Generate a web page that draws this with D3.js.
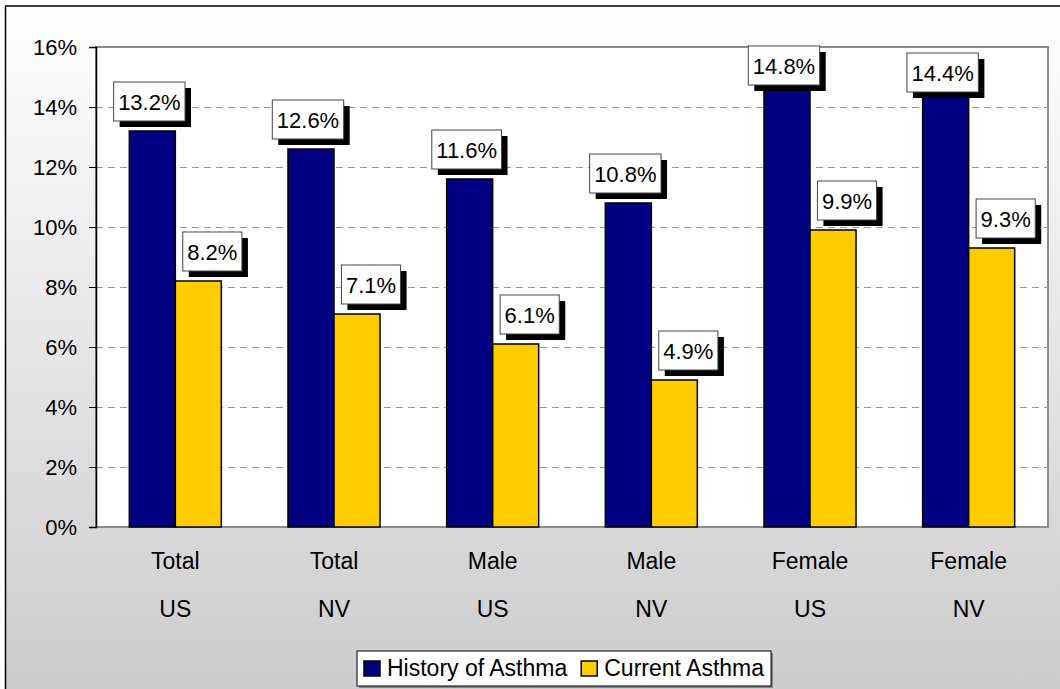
<!DOCTYPE html>
<html>
<head>
<meta charset="utf-8">
<script src="https://cdn.jsdelivr.net/npm/d3@7"></script>
<style>
  body { margin: 0; background: #fff; }
  svg text { font-family: "Liberation Sans", Arial, sans-serif; fill: #000; }
</style>
</head>
<body>
<div id="chart"></div>
<script>
// Asthma prevalence, US vs NV
const width = 1060;
const height = 689;
const plot = { left: 96, top: 47, right: 1048, bottom: 527 };

const groupLine1 = ['Total', 'Total', 'Male', 'Male', 'Female', 'Female'];
const groupLine2 = ['US', 'NV', 'US', 'NV', 'US', 'NV'];
const historyAsthma = [13.2, 12.6, 11.6, 10.8, 14.8, 14.4];
const currentAsthma = [8.2, 7.1, 6.1, 4.9, 9.9, 9.3];
const seriesNames = ['History of Asthma', 'Current Asthma'];
const seriesColors = ['#000080', '#ffcc00'];
const yTicks = [0, 2, 4, 6, 8, 10, 12, 14, 16];

const svg = d3.select('#chart')
    .append('svg')
    .attr('width', width)
    .attr('height', height);

// background gradient
const grad = svg.append('defs').append('linearGradient')
    .attr('id', 'bg').attr('x1', 0).attr('y1', 0).attr('x2', 0).attr('y2', 1);
grad.append('stop').attr('offset', '0%').attr('stop-color', '#ffffff');
grad.append('stop').attr('offset', '100%').attr('stop-color', '#cbcbcb');

svg.append('rect')
    .attr('x', 5.5).attr('y', 6)
    .attr('width', 1070).attr('height', 700)
    .attr('fill', 'url(#bg)')
    .attr('stroke', '#000').attr('stroke-width', 1.5);

svg.append('rect')
    .attr('x', plot.left).attr('y', plot.top)
    .attr('width', plot.right - plot.left).attr('height', plot.bottom - plot.top)
    .attr('fill', '#fff')
    .attr('stroke', '#8c8c8c').attr('stroke-width', 2);

const y = d3.scaleLinear().domain([0, 16]).range([plot.bottom, plot.top]);
const x0 = d3.scaleBand()
    .domain(d3.range(groupLine1.length))
    .range([plot.left, plot.right])
    .paddingInner(0.42)
    .paddingOuter(0.21);
const x1 = d3.scaleBand().domain([0, 1]).range([0, x0.bandwidth()]);

// gridlines
svg.append('g')
    .selectAll('line')
    .data(yTicks.filter(t => t > 0 && t < 16))
    .enter()
    .append('line')
    .attr('x1', plot.left).attr('x2', plot.right)
    .attr('y1', d => Math.round(y(d)) + 0.5).attr('y2', d => Math.round(y(d)) + 0.5)
    .attr('stroke', '#999')
    .attr('stroke-dasharray', '7,5');

// y axis
const yAxis = svg.append('g')
    .attr('transform', `translate(${plot.left},0)`)
    .call(d3.axisLeft(y).tickValues(yTicks).tickSize(7).tickPadding(12)
        .tickFormat(d => d + '%'));
yAxis.select('.domain').attr('stroke', '#000').attr('stroke-width', 1.5);
yAxis.selectAll('.tick line').attr('stroke', '#000');
yAxis.selectAll('.tick text')
    .style('font-size', '22px')
    .style('font-family', '"Liberation Sans", Arial, sans-serif');

// bars
const rows = historyAsthma.map((h, i) => ({ i, vals: [h, currentAsthma[i]] }));
const groups = svg.append('g')
    .selectAll('g')
    .data(rows)
    .enter()
    .append('g')
    .attr('transform', d => `translate(${x0(d.i)},0)`);

groups.selectAll('rect')
    .data(d => d.vals.map((v, s) => ({ v, s })))
    .enter()
    .append('rect')
    .attr('x', d => x1(d.s))
    .attr('y', d => y(d.v))
    .attr('width', x1.bandwidth())
    .attr('height', d => y(0) - y(d.v))
    .attr('fill', d => seriesColors[d.s])
    .attr('stroke', '#000')
    .attr('stroke-width', 1.5);

// data labels with shadow boxes
const labelOffset = [-3, 14];
const boxH = 39;
rows.forEach(r => {
    r.vals.forEach((v, s) => {
        const barTop = y(v);
        const cx = x0(r.i) + x1(s) + x1.bandwidth() / 2 + labelOffset[s];
        let top = barTop - 10 - boxH;
        if (top < plot.top) top = Math.max(plot.top - 1, barTop - 42);
        const g = svg.append('g');
        const shadow = g.append('rect');
        const box = g.append('rect');
        const t = g.append('text')
            .attr('x', cx)
            .attr('y', top + boxH / 2 + 8)
            .attr('text-anchor', 'middle')
            .style('font-size', '22px')
            .text(v.toFixed(1) + '%');
        const w = t.node().getComputedTextLength() + 9;
        shadow.attr('x', cx - w / 2 + 6).attr('y', top + 6)
            .attr('width', w).attr('height', boxH).attr('fill', '#000');
        box.attr('x', cx - w / 2).attr('y', top)
            .attr('width', w).attr('height', boxH)
            .attr('fill', '#fff').attr('stroke', '#444').attr('stroke-width', 1);
    });
});

// category labels
const cat = svg.append('g')
    .selectAll('g')
    .data(d3.range(groupLine1.length))
    .enter()
    .append('g');
cat.append('text')
    .attr('x', i => x0(i) + x0.bandwidth() / 2)
    .attr('y', 569)
    .attr('text-anchor', 'middle')
    .style('font-size', '23px')
    .text(i => groupLine1[i]);
cat.append('text')
    .attr('x', i => x0(i) + x0.bandwidth() / 2)
    .attr('y', 617)
    .attr('text-anchor', 'middle')
    .style('font-size', '23px')
    .text(i => groupLine2[i]);

// legend
const legend = svg.append('g');
const legShadow = legend.append('rect');
const legBox = legend.append('rect');
let lx = 364;
seriesNames.forEach((name, s) => {
    legend.append('rect')
        .attr('x', lx).attr('y', 661)
        .attr('width', 16).attr('height', 15)
        .attr('fill', seriesColors[s])
        .attr('stroke', '#000').attr('stroke-width', 1.5);
    const t = legend.append('text')
        .attr('x', lx + 23).attr('y', 676)
        .style('font-size', '23px')
        .text(name);
    lx += 23 + t.node().getComputedTextLength() + 14;
});
const legW = lx - 14 + 7 - 357;
legShadow.attr('x', 359).attr('y', 653).attr('width', legW).attr('height', 35).attr('fill', '#888');
legBox.attr('x', 357).attr('y', 651).attr('width', legW).attr('height', 35)
    .attr('fill', '#fff').attr('stroke', '#000').attr('stroke-width', 1);
</script>
</body>
</html>
